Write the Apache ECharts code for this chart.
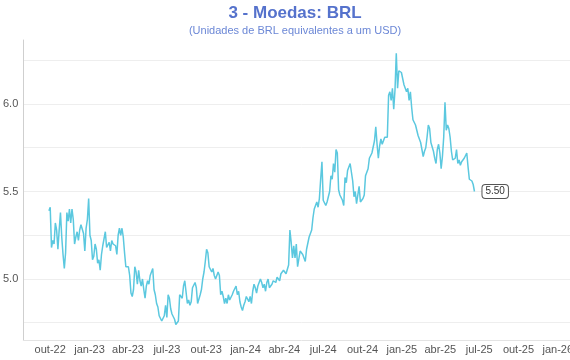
<!DOCTYPE html>
<html>
<head>
<meta charset="utf-8">
<script src="https://cdn.jsdelivr.net/npm/echarts@6/dist/echarts.min.js"></script>
<style>
html,body{margin:0;padding:0;background:#fff;overflow:hidden;width:570px;height:360px;}
#chart{width:590px;height:360px;}
</style>
</head>
<body>
<div id="chart"></div>
<script>
// ---- data ----
const titleText = '3 - Moedas: BRL';
const subtitleText = '(Unidades de BRL equivalentes a um USD)';
const monthNames = ['jan','fev','mar','abr','mai','jun','jul','ago','set','out','nov','dez'];
const startDate = [2022, 8, 28];   // first observation (28 Sep 2022)
const stepDays = 3;                 // one observation every 3 days
const xMin = '2022-07-30';
const xMax = '2026-02-22';
const yMin = 4.6514;
const yMax = 6.3657;
const brl = [
5.39,5.41,5.18,5.22,5.20,5.32,5.28,5.17,5.28,5.38,5.24,5.14,5.06,5.15,5.38,5.33,5.40,5.32,5.40,5.34,5.20,
5.24,
5.27,5.22,5.28,5.31,5.30,5.26,5.16,5.29,5.34,5.46,5.25,5.22,5.11,5.13,5.20,5.17,5.09,5.11,5.05,5.14,5.19,
5.23,
5.27,5.18,5.17,5.21,5.16,5.22,5.20,5.21,5.19,5.14,5.25,5.29,5.25,5.29,5.24,5.15,5.07,5.06,5.07,5.02,4.92,
4.90,
4.94,5.07,5.04,4.97,5.05,4.99,4.96,5.00,4.94,4.89,4.96,4.99,4.97,5.02,5.04,5.06,4.94,4.91,4.86,4.84,4.79,
4.78,
4.76,4.77,4.79,4.85,4.78,4.91,4.89,4.83,4.80,4.79,4.77,4.74,4.73,4.76,4.91,4.90,4.89,4.96,4.99,4.98,4.86,
4.88,
4.85,4.87,4.95,4.94,4.98,4.95,4.86,4.85,4.91,4.94,5.00,5.04,5.10,5.17,5.15,5.07,5.06,5.04,5.06,5.02,5.00,
5.02,
5.04,5.02,4.91,4.93,4.90,4.86,4.89,4.86,4.91,4.88,4.89,4.91,4.93,4.94,4.96,4.91,4.93,4.87,4.84,4.82,4.85,
4.87,
4.90,4.89,4.87,4.90,4.86,4.93,4.97,4.95,4.92,4.96,4.97,5.00,4.98,4.95,4.97,4.93,4.98,5.00,4.95,4.94,4.97,
4.99,
5.00,4.98,5.01,5.02,4.99,5.03,5.02,5.05,5.06,5.03,5.02,5.08,5.28,5.21,5.12,5.19,5.12,5.20,5.07,5.08,5.16,
5.15,
5.14,5.12,5.10,5.17,5.18,5.24,5.25,5.28,5.35,5.40,5.42,5.44,5.41,5.46,5.57,5.67,5.45,5.44,5.42,5.44,5.44,
5.50,
5.59,5.57,5.66,5.61,5.74,5.72,5.51,5.48,5.47,5.45,5.42,5.58,5.55,5.62,5.63,5.66,5.61,5.56,5.47,5.50,5.43,
5.48,
5.53,5.44,5.45,5.46,5.48,5.59,5.61,5.63,5.69,5.70,5.72,5.73,5.79,5.87,5.77,5.69,5.76,5.80,5.77,5.79,5.81,
5.80,
5.81,6.05,6.07,6.02,6.09,5.97,6.08,6.29,6.09,6.19,6.19,6.18,6.19,6.11,6.10,6.07,6.09,6.02,6.07,5.98,5.91,
5.90,
5.88,5.89,5.82,5.80,5.78,5.77,5.70,5.73,5.75,5.81,5.88,5.86,5.78,5.79,5.73,5.69,5.66,5.74,5.77,5.72,5.63,
5.70,
5.81,6.01,5.85,5.88,5.86,5.81,5.73,5.68,5.67,5.69,5.74,5.66,5.68,5.65,5.67,5.66,5.69,5.69,5.72,5.64,5.57,
5.56,
5.56,5.54,5.50
];

// ---- build series data (dates at regular 3-day spacing) ----
const seriesData = brl.map((v, i) => {
  const d = new Date(startDate[0], startDate[1], startDate[2] + i * stepDays);
  return [d.getTime(), v];
});

const FONT = '"Liberation Sans", Arial, Helvetica, sans-serif';
const chart = echarts.init(document.getElementById('chart'), null, {renderer: 'canvas'});
chart.setOption({
  animation: false,
  backgroundColor: '#fff',
  title: {
    text: titleText,
    subtext: subtitleText,
    left: 'center',
    top: 0,
    itemGap: 3,
    textStyle: {fontFamily: FONT, fontSize: 17, fontWeight: 'bold', color: '#5572cc'},
    subtextStyle: {fontFamily: FONT, fontSize: 11, color: '#6b87d6'}
  },
  grid: {left: 23, right: 10, top: 40, bottom: 20, containLabel: false},
  xAxis: {
    type: 'time',
    min: xMin,
    max: xMax,
    minInterval: 100 * 86400000,
    maxInterval: 100 * 86400000,
    axisLine: {show: true, lineStyle: {color: '#e3e3e3', width: 1}},
    axisTick: {show: false},
    splitLine: {show: false},
    axisLabel: {
      fontFamily: FONT, fontSize: 11, color: '#555', margin: 4,
      hideOverlap: false,
      formatter: function (value) {
        const d = new Date(value);
        return monthNames[d.getMonth()] + '-' + String(d.getFullYear()).slice(2);
      }
    }
  },
  yAxis: {
    type: 'value',
    min: yMin,
    max: yMax,
    minInterval: 0.25,
    maxInterval: 0.25,
    axisLine: {show: true, lineStyle: {color: '#cfcfcf', width: 1}},
    axisTick: {show: false},
    splitLine: {show: true, showMinLine: false, showMaxLine: false, lineStyle: {color: '#eeeeee', width: 1}},
    axisLabel: {
      fontFamily: FONT, fontSize: 11, color: '#555', margin: 5,
      showMinLabel: false, showMaxLabel: false,
      formatter: function (v) {
        return Math.abs(v * 2 - Math.round(v * 2)) < 1e-6 ? v.toFixed(1) : '';
      }
    }
  },
  series: [{
    type: 'line',
    data: seriesData,
    showSymbol: false,
    symbol: 'none',
    lineStyle: {color: '#5bc8df', width: 1.5},
    itemStyle: {color: '#5bc8df'},
    endLabel: {
      show: true,
      distance: 8,
      formatter: function (p) { return p.value[1].toFixed(2); },
      fontFamily: FONT, fontSize: 10, color: '#333',
      backgroundColor: '#fff',
      borderColor: '#555', borderWidth: 1, borderRadius: 3,
      padding: [2, 3, 1, 3]
    }
  }]
});
</script>
</body>
</html>
